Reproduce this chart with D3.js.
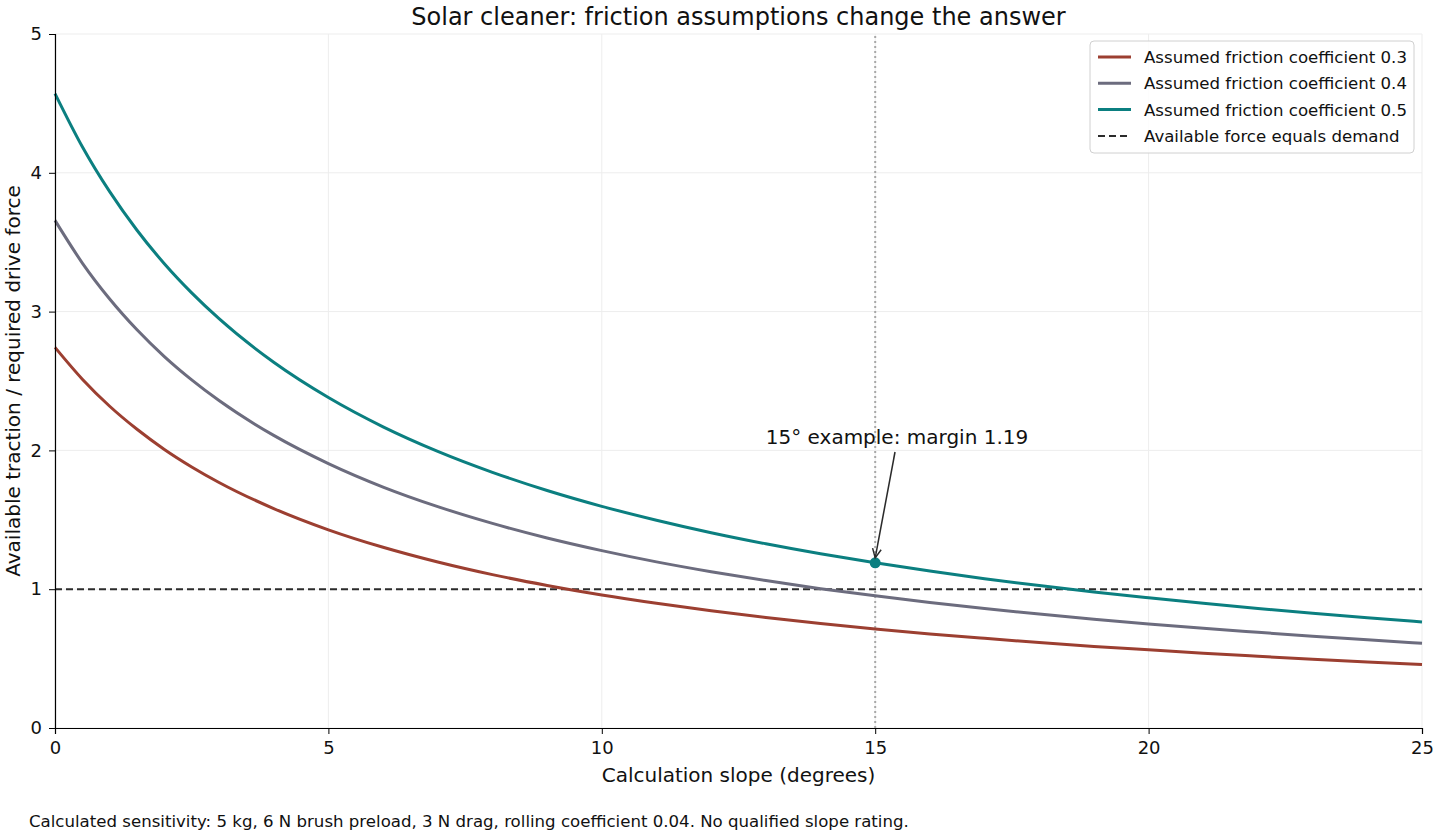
<!DOCTYPE html>
<html>
<head>
<meta charset="utf-8">
<script src="https://cdn.jsdelivr.net/npm/d3@7"></script>
<style>
  html, body { margin: 0; padding: 0; background: #fff; }
  text { font-family: "DejaVu Sans", sans-serif; fill: #111; }
</style>
</head>
<body>
<div id="chart"></div>
<script>
// values
var slopes = [0, 0.5, 1, 1.5, 2, 2.5, 3, 4, 5, 6, 7, 8, 9, 10, 11, 12, 13, 14, 15, 16, 17, 18, 19, 20, 21, 22, 23, 24, 25];
var mu03 = [2.742, 2.513, 2.318, 2.152, 2.007, 1.881, 1.769, 1.581, 1.428, 1.302, 1.196, 1.105, 1.027, 0.958, 0.898, 0.844, 0.796, 0.753, 0.714, 0.678, 0.646, 0.616, 0.588, 0.563, 0.539, 0.517, 0.496, 0.476, 0.458];
var mu04 = [3.657, 3.350, 3.091, 2.869, 2.676, 2.508, 2.359, 2.108, 1.905, 1.736, 1.595, 1.474, 1.369, 1.278, 1.197, 1.126, 1.062, 1.004, 0.952, 0.905, 0.861, 0.821, 0.784, 0.750, 0.718, 0.689, 0.661, 0.635, 0.611];
var mu05 = [4.571, 4.188, 3.864, 3.586, 3.345, 3.135, 2.949, 2.635, 2.381, 2.170, 1.993, 1.842, 1.711, 1.597, 1.497, 1.407, 1.327, 1.255, 1.190, 1.131, 1.076, 1.026, 0.980, 0.938, 0.898, 0.861, 0.826, 0.794, 0.764];
var seriesNames = ['Assumed friction coefficient 0.3', 'Assumed friction coefficient 0.4', 'Assumed friction coefficient 0.5'];
var xTicks = [0, 5, 10, 15, 20, 25];
var yTicks = [0, 1, 2, 3, 4, 5];
var thresholdValue = 1;
var exampleSlope = 15,
    exampleMargin = 1.19;

var width = 1440,
    height = 840,
    margin = { top: 34, right: 18, bottom: 112, left: 55 },
    colors = ['#9c3f31', '#6c6c7e', '#0b7f80'];

var svg = d3.select('#chart')
    .append('svg')
    .attr('width', width)
    .attr('height', height);

var x = d3.scaleLinear().domain([0, 25]).range([margin.left, width - margin.right]);
var y = d3.scaleLinear().domain([0, 5]).range([height - margin.bottom, margin.top]);

// grid
svg.append('g').selectAll('line.vgrid').data(xTicks).enter()
    .append('line')
    .attr('x1', function (d) { return x(d); }).attr('x2', function (d) { return x(d); })
    .attr('y1', y(0)).attr('y2', y(5))
    .attr('stroke', '#ededed').attr('stroke-width', 1);
svg.append('g').selectAll('line.hgrid').data(yTicks).enter()
    .append('line')
    .attr('x1', x(0)).attr('x2', x(25))
    .attr('y1', function (d) { return y(d); }).attr('y2', function (d) { return y(d); })
    .attr('stroke', '#ededed').attr('stroke-width', 1);

// 15 degree marker line
svg.append('line')
    .attr('x1', x(exampleSlope)).attr('x2', x(exampleSlope))
    .attr('y1', y(0)).attr('y2', y(5))
    .attr('stroke', '#a8a8a8').attr('stroke-width', 2)
    .attr('stroke-dasharray', '2,3');

// threshold
svg.append('line')
    .attr('x1', x(0)).attr('x2', x(25))
    .attr('y1', y(thresholdValue)).attr('y2', y(thresholdValue))
    .attr('stroke', '#2b2b2b').attr('stroke-width', 2)
    .attr('stroke-dasharray', '7,4');

var line = d3.line()
    .x(function (d) { return x(d[0]); })
    .y(function (d) { return y(d[1]); })
    .curve(d3.curveMonotoneX);

[mu03, mu04, mu05].forEach(function (vals, i) {
    svg.append('path')
        .datum(d3.zip(slopes, vals))
        .attr('d', line)
        .attr('fill', 'none')
        .attr('stroke', colors[i])
        .attr('stroke-width', 3);
});

// axes
var xAxis = svg.append('g')
    .attr('transform', 'translate(0,' + y(0) + ')')
    .call(d3.axisBottom(x).tickValues(xTicks).tickSize(6).tickPadding(7).tickFormat(d3.format('d')));
var yAxis = svg.append('g')
    .attr('transform', 'translate(' + x(0) + ',0)')
    .call(d3.axisLeft(y).tickValues(yTicks).tickSize(6).tickPadding(7).tickFormat(d3.format('d')));
[xAxis, yAxis].forEach(function (ax) {
    ax.select('.domain').attr('stroke', '#000').attr('stroke-width', 1.2);
    ax.selectAll('.tick line').attr('stroke', '#000').attr('stroke-width', 1);
    ax.selectAll('.tick text').attr('font-family', '"DejaVu Sans", sans-serif').attr('font-size', 18).attr('fill', '#111');
});

// example point + annotation
svg.append('circle')
    .attr('cx', x(exampleSlope)).attr('cy', y(exampleMargin))
    .attr('r', 5.5).attr('fill', colors[2]);

var ax1 = 895, ay1 = 452, ax2 = x(exampleSlope), ay2 = y(exampleMargin) - 5;
svg.append('line')
    .attr('x1', ax1).attr('y1', ay1).attr('x2', ax2).attr('y2', ay2)
    .attr('stroke', '#2b2b2b').attr('stroke-width', 1.5);
var ang = Math.atan2(ay2 - ay1, ax2 - ax1);
var head = 10, spread = 0.45;
svg.append('path')
    .attr('d', d3.line()([
        [ax2 - head * Math.cos(ang - spread), ay2 - head * Math.sin(ang - spread)],
        [ax2, ay2],
        [ax2 - head * Math.cos(ang + spread), ay2 - head * Math.sin(ang + spread)]
    ]))
    .attr('fill', 'none').attr('stroke', '#2b2b2b').attr('stroke-width', 1.5);

svg.append('text')
    .attr('x', 897).attr('y', 444)
    .attr('text-anchor', 'middle')
    .attr('font-size', 20)
    .text('15\u00b0 example: margin ' + exampleMargin.toFixed(2));

// titles
svg.append('text')
    .attr('x', (x(0) + x(25)) / 2).attr('y', 25)
    .attr('text-anchor', 'middle')
    .attr('font-size', 24)
    .text('Solar cleaner: friction assumptions change the answer');

svg.append('text')
    .attr('x', (x(0) + x(25)) / 2).attr('y', 782)
    .attr('text-anchor', 'middle')
    .attr('font-size', 20)
    .text('Calculation slope (degrees)');

svg.append('text')
    .attr('transform', 'translate(20,' + (y(0) + y(5)) / 2 + ') rotate(-90)')
    .attr('text-anchor', 'middle')
    .attr('font-size', 20)
    .text('Available traction / required drive force');

svg.append('text')
    .attr('x', 29).attr('y', 827)
    .attr('font-size', 16.6)
    .text('Calculated sensitivity: 5 kg, 6 N brush preload, 3 N drag, rolling coefficient 0.04. No qualified slope rating.');

// legend
var legend = svg.append('g').attr('transform', 'translate(1090,41)');
legend.append('rect')
    .attr('width', 324).attr('height', 112)
    .attr('rx', 4)
    .attr('fill', '#fff').attr('fill-opacity', 0.85)
    .attr('stroke', '#d0d0d0').attr('stroke-width', 1);

var legendItems = seriesNames.map(function (name, i) {
    return { label: name, color: colors[i], dash: null };
});
legendItems.push({ label: 'Available force equals demand', color: '#2b2b2b', dash: '7,4' });

var item = legend.selectAll('g.item').data(legendItems).enter()
    .append('g')
    .attr('transform', function (d, i) { return 'translate(0,' + (16 + i * 26.3) + ')'; });
item.append('line')
    .attr('x1', 8).attr('x2', 41)
    .attr('stroke', function (d) { return d.color; })
    .attr('stroke-width', function (d) { return d.dash ? 2 : 3; })
    .attr('stroke-dasharray', function (d) { return d.dash; });
item.append('text')
    .attr('x', 54).attr('y', 6)
    .attr('font-size', 16.6)
    .text(function (d) { return d.label; });
</script>
</body>
</html>
